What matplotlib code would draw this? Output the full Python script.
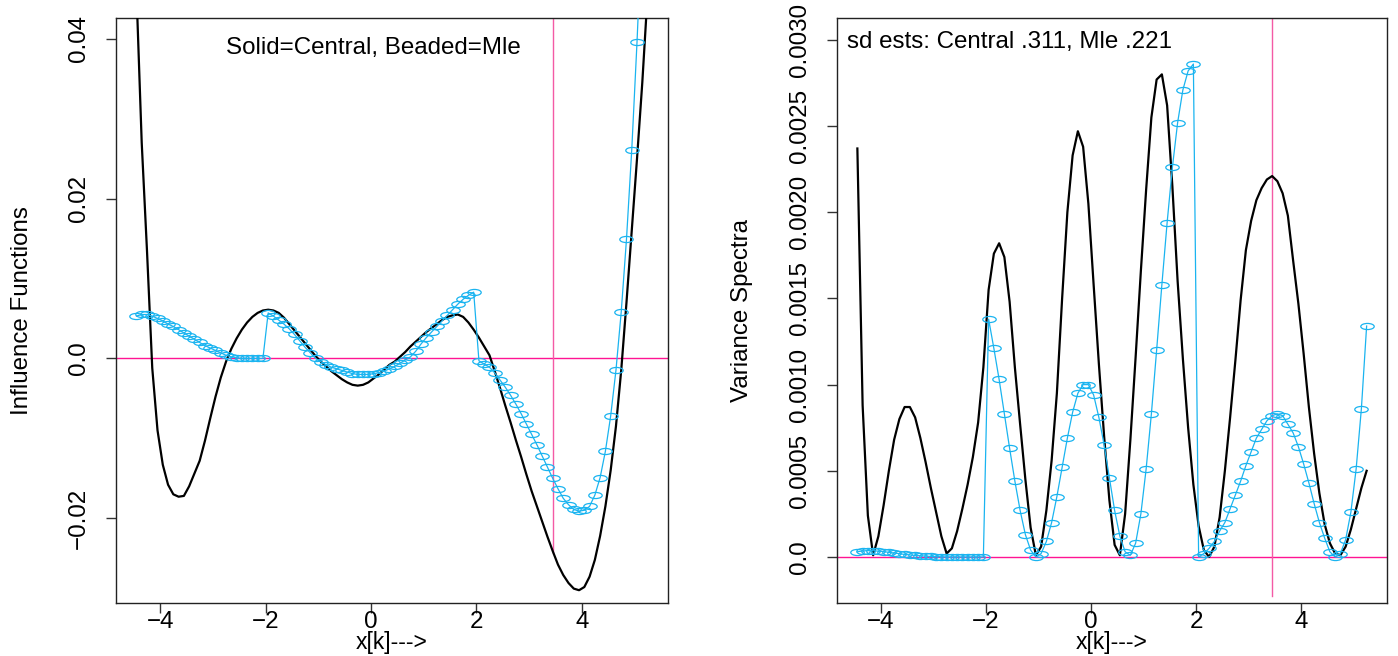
import matplotlib
matplotlib.use("Agg")
import matplotlib.pyplot as plt
from matplotlib.markers import MarkerStyle
from matplotlib.transforms import Affine2D

plt.rcParams['font.family'] = ['Liberation Sans', 'DejaVu Sans']

# ---------------- data ----------------
x_k = [-4.45, -4.35, -4.25, -4.15, -4.05, -3.95, -3.85, -3.75, -3.65, -3.55,
       -3.45, -3.35, -3.25, -3.15, -3.05, -2.95, -2.85, -2.75, -2.65, -2.55,
       -2.45, -2.35, -2.25, -2.15, -2.05, -1.95, -1.85, -1.75, -1.65, -1.55,
       -1.45, -1.35, -1.25, -1.15, -1.05, -0.95, -0.85, -0.75, -0.65, -0.55,
       -0.45, -0.35, -0.25, -0.15, -0.05, 0.05, 0.15, 0.25, 0.35, 0.45,
       0.55, 0.65, 0.75, 0.85, 0.95, 1.05, 1.15, 1.25, 1.35, 1.45,
       1.55, 1.65, 1.75, 1.85, 1.95, 2.05, 2.15, 2.25, 2.35, 2.45,
       2.55, 2.65, 2.75, 2.85, 2.95, 3.05, 3.15, 3.25, 3.35, 3.45,
       3.55, 3.65, 3.75, 3.85, 3.95, 4.05, 4.15, 4.25, 4.35, 4.45,
       4.55, 4.65, 4.75, 4.85, 4.95, 5.05, 5.15, 5.25]

influence_central = [
    0.0460, 0.0270, 0.0135, -0.0012, -0.0090, -0.0133, -0.0158, -0.0170, -0.0173, -0.0172,
    -0.0160, -0.0144, -0.0128, -0.0103, -0.0075, -0.0048, -0.0024, -0.0004, 0.0012, 0.0025,
    0.0036, 0.0045, 0.0052, 0.0057, 0.0060, 0.0061, 0.0060, 0.0057, 0.0051, 0.0043,
    0.0035, 0.0027, 0.0019, 0.0011, 0.0003, -0.0004, -0.0010, -0.0016, -0.0021, -0.0026,
    -0.0030, -0.0033, -0.0034, -0.0033, -0.0030, -0.0025, -0.0020, -0.0014, -0.0008, -0.0004,
    0.0002, 0.0008, 0.0015, 0.0021, 0.0027, 0.0033, 0.0038, 0.0043, 0.0048, 0.0052,
    0.0054, 0.0055, 0.0052, 0.0045, 0.0036, 0.0026, 0.0015, 0.0004, -0.0016, -0.0037,
    -0.0059, -0.0080, -0.0102, -0.0123, -0.0145, -0.0166, -0.0185, -0.0204, -0.0223, -0.0241,
    -0.0258, -0.0271, -0.0281, -0.0288, -0.0290, -0.0286, -0.0273, -0.0252, -0.0222, -0.0185,
    -0.0140, -0.0085, -0.0015, 0.0070, 0.0160, 0.0250, 0.0345, 0.0455]

influence_mle = [
    0.0053, 0.0055, 0.0055, 0.0053, 0.0050, 0.0047, 0.0043, 0.0040, 0.0036, 0.0032,
    0.0028, 0.0024, 0.0020, 0.0016, 0.0013, 0.0010, 0.0007, 0.0004, 0.0002, 0.0001,
    0.0000, 0.0000, 0.0000, 0.0000, 0.0000, 0.0057, 0.0053, 0.0048, 0.0043, 0.0037,
    0.0030, 0.0022, 0.0014, 0.0007, 0.0000, -0.0004, -0.0008, -0.0011, -0.0013, -0.0015,
    -0.0017, -0.0019, -0.0020, -0.0020, -0.0020, -0.0019, -0.0018, -0.0016, -0.0013, -0.0010,
    -0.0006, -0.0002, 0.0002, 0.0009, 0.0018, 0.0026, 0.0033, 0.0040, 0.0047, 0.0054,
    0.0061, 0.0068, 0.0074, 0.0079, 0.0083, -0.0003, -0.0007, -0.0011, -0.0018, -0.0027,
    -0.0036, -0.0046, -0.0057, -0.0069, -0.0082, -0.0095, -0.0108, -0.0122, -0.0136, -0.0150,
    -0.0163, -0.0175, -0.0183, -0.0189, -0.0191, -0.0190, -0.0185, -0.0171, -0.0149, -0.0116,
    -0.0072, -0.0015, 0.0058, 0.0149, 0.0261, 0.0396, 0.0550, 0.0730]

variance_central = [
    0.00237, 0.00088, 0.00024, 0.00001, 0.00012, 0.00030, 0.00050, 0.00068, 0.00080, 0.00087,
    0.00087, 0.00081, 0.00069, 0.00055, 0.00040, 0.00026, 0.00012, 0.00002, 0.00005, 0.00015,
    0.00028, 0.00042, 0.00058, 0.00078, 0.00110, 0.00155, 0.00176, 0.00182, 0.00174, 0.00148,
    0.00110, 0.00077, 0.00045, 0.00017, 0.00001, 0.00006, 0.00027, 0.00056, 0.00095, 0.00150,
    0.00200, 0.00233, 0.00247, 0.00238, 0.00205, 0.00158, 0.00112, 0.00070, 0.00033, 0.00007,
    0.00001, 0.00025, 0.00068, 0.00116, 0.00166, 0.00213, 0.00255, 0.00277, 0.00280, 0.00262,
    0.00215, 0.00160, 0.00115, 0.00075, 0.00042, 0.00018, 0.00004, 0.00000, 0.00006, 0.00023,
    0.00050, 0.00081, 0.00114, 0.00149, 0.00178, 0.00195, 0.00207, 0.00214, 0.00219, 0.00221,
    0.00218, 0.00211, 0.00198, 0.00172, 0.00147, 0.00118, 0.00087, 0.00060, 0.00037, 0.00019,
    0.00008, 0.00002, 0.00001, 0.00006, 0.00016, 0.00028, 0.00040, 0.00050]

variance_mle = [
    0.000030, 0.000035, 0.000037, 0.000036, 0.000034, 0.000031, 0.000027, 0.000023, 0.000019, 0.000015,
    0.000012, 0.000009, 0.000007, 0.000005, 0.000003, 0.000002, 0.000001, 0.0, 0.0, 0.0,
    0.0, 0.0, 0.0, 0.0, 0.0, 0.00138, 0.00121, 0.00103, 0.00083, 0.00063,
    0.00044, 0.00027, 0.00013, 0.00004, 0.00000, 0.00002, 0.00009, 0.00020, 0.00035, 0.00052,
    0.00069, 0.00084, 0.00095, 0.00100, 0.00100, 0.00094, 0.00081, 0.00065, 0.00046, 0.00027,
    0.00012, 0.00003, 0.00001, 0.00008, 0.00025, 0.00051, 0.00083, 0.00120, 0.00158, 0.00194,
    0.00226, 0.00252, 0.00271, 0.00282, 0.00286, 0.00000, 0.00002, 0.00005, 0.00009, 0.00015,
    0.00020, 0.00028, 0.00036, 0.00044, 0.00053, 0.00061, 0.00069, 0.00074, 0.00079, 0.00082,
    0.00083, 0.00082, 0.00077, 0.00072, 0.00064, 0.00054, 0.00043, 0.00031, 0.00020, 0.00011,
    0.00003, 0.00000, 0.00002, 0.00010, 0.00026, 0.00051, 0.00086, 0.00134]

x_ticks = [-4, -2, 0, 2, 4]
x_tick_labels = ["\u22124", "\u22122", "0", "2", "4"]
left_y_ticks = [-0.02, 0.0, 0.02, 0.04]
left_y_labels = ["\u22120.02", "0.0", "0.02", "0.04"]
right_y_ticks = [0.0, 0.0005, 0.0010, 0.0015, 0.0020, 0.0025, 0.0030]
right_y_labels = ["0.0", "0.0005", "0.0010", "0.0015", "0.0020", "0.0025", "0.0030"]

vline_x = 3.45
left_vline_bottom = -0.0243
right_vline_bottom = -0.000225

left_text = "Solid=Central, Beaded=Mle"
right_text = "sd ests: Central .311, Mle .221"

# ---------------- styling ----------------
W, H = 1398, 656
FS = 17.4
BLUE = '#1ab4f0'
PINK_H = '#ff1493'
PINK_V = '#f45aa5'

fig = plt.figure(figsize=(W / 100, H / 100), dpi=100)
ax1 = fig.add_axes([116 / W, 1 - 603 / H, 552 / W, 585 / H])
ax2 = fig.add_axes([837 / W, 1 - 603 / H, 550 / W, 585 / H])

bead = MarkerStyle('o', fillstyle='none', transform=Affine2D().scale(2.2, 1.0))

for ax, central, mle, ylim, yt, ytl, vbot in [
        (ax1, influence_central, influence_mle, (-0.0306, 0.0426), left_y_ticks, left_y_labels, left_vline_bottom),
        (ax2, variance_central, variance_mle, (-0.000267, 0.003127), right_y_ticks, right_y_labels, right_vline_bottom)]:
    ax.plot(x_k, central, color='black', lw=1.6, zorder=3)
    ax.plot(x_k, mle, color=BLUE, lw=0.9, marker=bead, ms=4.4, mew=0.9,
            mfc='none', mec=BLUE, zorder=4)
    ax.axhline(0, color=PINK_H, lw=1.0, zorder=2)
    ax.plot([vline_x, vline_x], [vbot, ylim[1]], color=PINK_V, lw=1.0, zorder=2)
    ax.set_xlim(-4.838, 5.638)
    ax.set_ylim(*ylim)
    ax.set_xticks(x_ticks)
    ax.set_xticklabels(x_tick_labels, fontsize=FS)
    ax.set_yticks(yt)
    ax.set_yticklabels(ytl, fontsize=FS, rotation=90, va='center')
    ax.tick_params(axis='both', direction='out', length=7, width=1.0, color='#333333')
    ax.tick_params(axis='x', pad=-1.5)
    ax.tick_params(axis='y', pad=12)
    for sp in ax.spines.values():
        sp.set_linewidth(1.0)
        sp.set_color('#222222')

ax1.text(0.05, 0.0389, left_text, fontsize=FS, ha='center', va='center')
ax2.text(-4.655, 0.00299, right_text, fontsize=FS, ha='left', va='center')

fig.text(22 / W, 1 - 311 / H, "Influence Functions", fontsize=FS, rotation=90,
         ha='center', va='center')
fig.text(742 / W, 1 - 311 / H, "Variance Spectra", fontsize=FS, rotation=90,
         ha='center', va='center')
fig.text(392 / W, 1 - 643 / H, "x[k]--->", fontsize=16.5, ha='center', va='center')
fig.text(1112 / W, 1 - 643 / H, "x[k]--->", fontsize=16.5, ha='center', va='center')

fig.savefig("out.png", dpi=100)
